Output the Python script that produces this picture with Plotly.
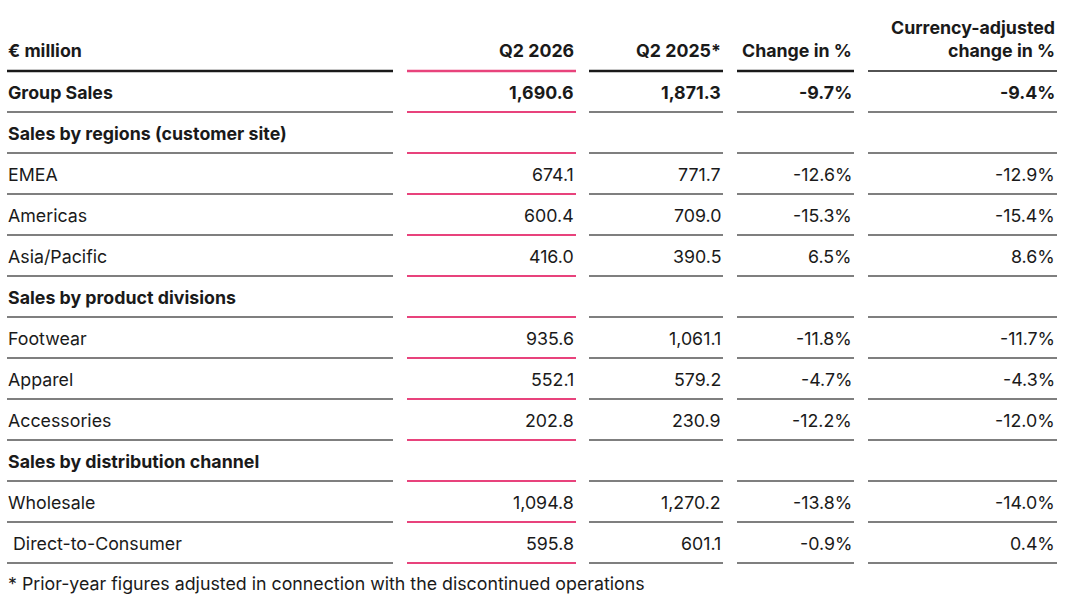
import plotly.graph_objects as go

# table data
labels = ["Group Sales", "Sales by regions (customer site)", "EMEA", "Americas", "Asia/Pacific",
          "Sales by product divisions", "Footwear", "Apparel", "Accessories",
          "Sales by distribution channel", "Wholesale", " Direct-to-Consumer"]
bold_rows = [0, 1, 5, 9]
q2_2026 = [1690.6, None, 674.1, 600.4, 416.0, None, 935.6, 552.1, 202.8, None, 1094.8, 595.8]
q2_2025 = [1871.3, None, 771.7, 709.0, 390.5, None, 1061.1, 579.2, 230.9, None, 1270.2, 601.1]
change_pct = [-9.7, None, -12.6, -15.3, 6.5, None, -11.8, -4.7, -12.2, None, -13.8, -0.9]
fx_change_pct = [-9.4, None, -12.9, -15.4, 8.6, None, -11.7, -4.3, -12.0, None, -14.0, 0.4]
headers = ["€ million", "Q2 2026", "Q2 2025*", "Change in %", "Currency-adjusted<br>change in %"]
footnote = "* Prior-year figures adjusted in connection with the discontinued operations"

FONT = "Inter"
SIZE = 17.8
INK = "#1a1a1a"
PINK = "#e8437c"
GREY = "#555555"

# column extents (left, right) in pixels
cols = [(7, 393), (407, 576), (589, 723), (737, 854), (868, 1057)]
row0 = 92
row_h = 41
header_y = 50
header_line = 71

fig = go.Figure()
ann = []
shapes = []


def txt(s, x, y, anchor, bold=False):
    ann.append(dict(x=x, y=y, xref="x", yref="y", text=f"<b>{s}</b>" if bold else s,
                    showarrow=False, xanchor=anchor, yanchor="middle", align=anchor,
                    font=dict(family=FONT, size=SIZE, color=INK)))


def hline(c, y, color, width):
    shapes.append(dict(type="line", xref="x", yref="y", x0=cols[c][0], x1=cols[c][1],
                       y0=y, y1=y, line=dict(color=color, width=width)))


# header
for c, h in enumerate(headers):
    if c == 0:
        txt(h, cols[0][0] - 1.5, header_y, "left", True)
    elif "<br>" in h:
        txt(h, cols[c][1], header_y - 11, "right", True)
    else:
        txt(h, cols[c][1], header_y, "right", True)
for c in range(5):
    if c == 1:
        hline(c, header_line, PINK, 2.5)
    elif c == 4:
        hline(c, header_line, INK, 1.6)
    else:
        hline(c, header_line, INK, 2.6)

# body
for i, lab in enumerate(labels):
    y = row0 + i * row_h
    b = i in bold_rows
    txt(lab, cols[0][0] - 1.5, y, "left", b)
    if q2_2026[i] is not None:
        txt(f"{q2_2026[i]:,.1f}", cols[1][1], y, "right", b)
        txt(f"{q2_2025[i]:,.1f}", cols[2][1], y, "right", b)
        txt(f"{change_pct[i]:.1f}%", cols[3][1], y, "right", b)
        txt(f"{fx_change_pct[i]:.1f}%", cols[4][1], y, "right", b)
    ly = y + 20
    for c in range(5):
        hline(c, ly, PINK if c == 1 else GREY, 2.2 if c == 1 else 1.3)

txt(footnote, cols[0][0] - 1.5, row0 + (len(labels) - 1) * row_h + 40, "left")

fig.update_layout(
    width=1080, height=609,
    margin=dict(l=0, r=0, t=0, b=0),
    paper_bgcolor="white", plot_bgcolor="white",
    xaxis=dict(range=[0, 1080], visible=False, fixedrange=True),
    yaxis=dict(range=[609, 0], visible=False, fixedrange=True),
    annotations=ann, shapes=shapes, showlegend=False,
)

fig.write_html("out.html", config={"displayModeBar": False},
               post_script="document.body.style.margin='0';document.body.style.overflow='hidden';")
